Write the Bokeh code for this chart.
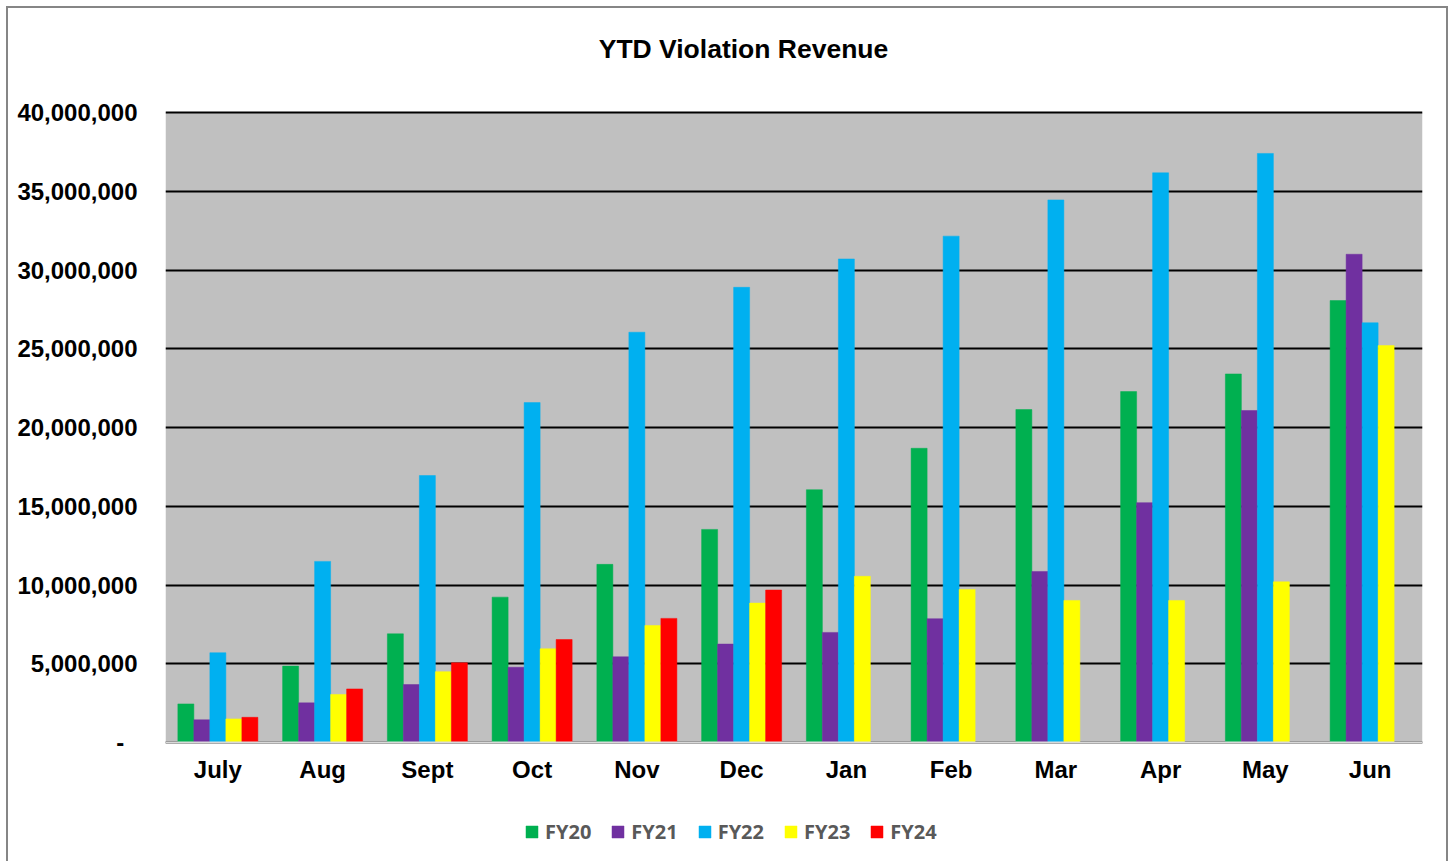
from bokeh.plotting import figure
from bokeh.models import (ColumnDataSource, FactorRange, Range1d, Legend, LegendItem, FixedTicker,
                          NumeralTickFormatter, Label, BoxAnnotation)
from bokeh.transform import dodge
from bokeh.embed import file_html
from bokeh.resources import INLINE

months = ["July", "Aug", "Sept", "Oct", "Nov", "Dec", "Jan", "Feb", "Mar", "Apr", "May", "Jun"]
series = ["FY20", "FY21", "FY22", "FY23", "FY24"]
colors = ["#00B050", "#7030A0", "#00B0F0", "#FFFF00", "#FF0000"]

fy20 = [2450000, 4850000, 6900000, 9230000, 11310000, 13530000, 16050000, 18680000, 21140000, 22280000, 23400000, 28060000]
fy21 = [1440000, 2520000, 3680000, 4780000, 5440000, 6250000, 6990000, 7860000, 10860000, 15230000, 21080000, 31000000]
fy22 = [5700000, 11500000, 16950000, 21580000, 26050000, 28900000, 30700000, 32150000, 34450000, 36170000, 37400000, 26650000]
fy23 = [1500000, 3050000, 4500000, 5950000, 7430000, 8850000, 10550000, 9720000, 9020000, 9020000, 10200000, 25200000]
fy24 = [1600000, 3400000, 5060000, 6540000, 7880000, 9680000]

y_ticks = [0, 5000000, 10000000, 15000000, 20000000, 25000000, 30000000, 35000000, 40000000]
y_max = 40000000

data_lists = [fy20, fy21, fy22, fy23, fy24]

# frame spans the whole chart area; the grey plot area is 0..y_max
frame_h = 853
px_per_unit = 630 / y_max
y_top = y_max + 104 / px_per_unit
y_bottom = -(frame_h - 734) / px_per_unit

p = figure(x_range=FactorRange(factors=months, range_padding=0),
           y_range=Range1d(y_bottom, y_top),
           frame_width=1257, frame_height=frame_h,
           output_backend="svg", toolbar_location=None, title_location=None,
           min_border_left=157, min_border_right=24,
           min_border_top=0, min_border_bottom=0)
p.styles = {"border-left": "2px solid #868686", "border-top": "2px solid #868686",
            "border-right": "2px solid #868686",
            "margin-left": "6px", "margin-top": "6px"}

p.background_fill_color = "white"
p.border_fill_color = "white"
p.outline_line_color = None

plot_area = BoxAnnotation(bottom=0, top=y_max, fill_color="#C0C0C0", fill_alpha=1,
                          line_color=None, level="image")
p.add_layout(plot_area)

bw = 0.1528
offsets = [-2 * bw, -bw, 0, bw, 2 * bw]
renderers = []
for name, vals, col, off in zip(series, data_lists, colors, offsets):
    src = ColumnDataSource(dict(month=months[:len(vals)], value=vals))
    r = p.vbar(x=dodge("month", off, range=p.x_range), top="value", width=bw,
               source=src, fill_color=col, line_color=col, line_width=0.5)
    renderers.append(r)

p.xgrid.grid_line_color = None
p.ygrid.grid_line_color = "black"
p.ygrid.grid_line_width = 2
p.ygrid.ticker = FixedTicker(ticks=y_ticks)
p.ygrid.level = "underlay"

p.yaxis.ticker = FixedTicker(ticks=y_ticks)
p.yaxis.formatter = NumeralTickFormatter(format="0,0")
p.yaxis.major_label_overrides = {0: "-\u00a0\u00a0"}
p.yaxis.axis_line_color = None
p.yaxis.major_tick_line_color = None
p.yaxis.minor_tick_line_color = None
p.yaxis.major_tick_out = 0
p.yaxis.major_label_standoff = 28
p.yaxis.major_label_text_font = "Liberation Sans"
p.yaxis.major_label_text_font_style = "bold"
p.yaxis.major_label_text_font_size = "24px"
p.yaxis.major_label_text_color = "black"

p.xaxis.fixed_location = 0
p.xaxis.axis_line_color = "#D9D9D9"
p.xaxis.axis_line_width = 2
p.xaxis.major_tick_line_color = None
p.xaxis.minor_tick_line_color = None
p.xaxis.major_tick_out = 0
p.xaxis.major_label_standoff = 13
p.xaxis.major_label_text_font = "Liberation Sans"
p.xaxis.major_label_text_font_style = "bold"
p.xaxis.major_label_text_font_size = "24px"
p.xaxis.major_label_text_color = "black"

title = Label(text="YTD Violation Revenue", x=578, y=frame_h - 40, x_units="screen", y_units="screen",
              text_align="center", text_baseline="middle",
              text_font="Liberation Sans", text_font_style="bold",
              text_font_size="26.5px", text_color="black")
p.add_layout(title)

legend = Legend(items=[LegendItem(label=n, renderers=[r]) for n, r in zip(series, renderers)],
                orientation="horizontal", location=(359, 16),
                label_text_font="Open Sans", label_text_font_style="bold",
                label_text_font_size="20px", label_text_color="#595959",
                glyph_width=15, glyph_height=15, label_standoff=6, spacing=19,
                border_line_color=None, background_fill_alpha=0,
                padding=0, margin=0)
p.add_layout(legend, "center")

open("out.html", "w").write(file_html(p, INLINE))
